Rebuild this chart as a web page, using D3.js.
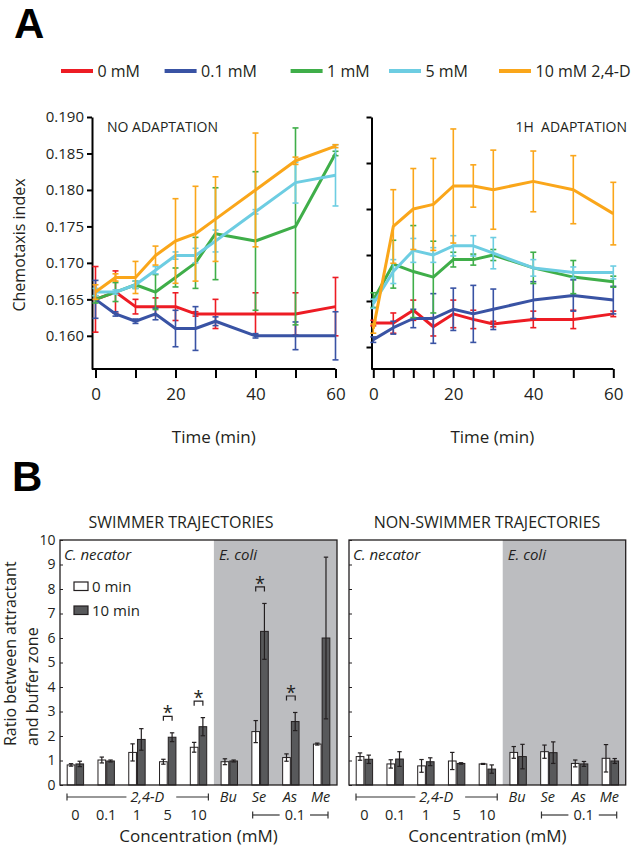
<!DOCTYPE html>
<html>
<head>
<meta charset="utf-8">
<script src="https://cdn.jsdelivr.net/npm/d3@7"></script>
<style>
  body { margin: 0; background: #fff; }
  text { font-family: "Open Sans", "Noto Sans", sans-serif; fill: #231f20; }
</style>
</head>
<body>
<svg id="fig" width="634" height="847"></svg>
<script>
// ---------- data ----------
const times = [0, 5, 10, 15, 20, 25, 30, 40, 50, 60];
const doseLabels = ["0 mM", "0.1 mM", "1 mM", "5 mM", "10 mM 2,4-D"];
const doseColors = ["#ed1c24", "#3953a4", "#3fae49", "#6dcde2", "#faa61a"];

// Chemotaxis index without adaptation (rows: 0, 0.1, 1, 5, 10 mM)
const noAdaptMean = [
  [0.165, 0.166, 0.164, 0.164, 0.164, 0.163, 0.163, 0.163, 0.163, 0.164],
  [0.165, 0.163, 0.162, 0.163, 0.161, 0.161, 0.162, 0.160, 0.160, 0.160],
  [0.165, 0.166, 0.167, 0.166, 0.168, 0.170, 0.174, 0.173, 0.175, 0.185],
  [0.166, 0.166, 0.167, 0.169, 0.171, 0.171, 0.173, 0.177, 0.181, 0.182],
  [0.166, 0.168, 0.168, 0.171, 0.173, 0.174, 0.176, 0.180, 0.184, 0.186]
];
const noAdaptErr = [
  [0.0045, 0.0029, 0.0010, 0.0012, 0.0019, 0.0003, 0.0020, 0.0029, 0.0029, 0.0040],
  [0.0026, 0.0003, 0.0003, 0.0008, 0.0025, 0.0030, 0.0006, 0.0003, 0.0019, 0.0033],
  [0.0005, 0.0013, 0.0005, 0.0024, 0.0013, 0.0035, 0.0063, 0.0095, 0.0135, 0.0003],
  [0.0005, 0.0003, 0.0005, 0.0005, 0.0005, 0.0010, 0.0015, 0.0003, 0.0028, 0.0042],
  [0.0010, 0.0005, 0.0022, 0.0013, 0.0058, 0.0065, 0.0058, 0.0078, 0.0005, 0.0002]
];

// Chemotaxis index after 1 h adaptation
const adaptMean = [
  [0.1676, 0.1676, 0.1690, 0.1672, 0.1686, 0.1680, 0.1675, 0.1680, 0.1680, 0.1686],
  [0.1658, 0.1671, 0.1681, 0.1681, 0.1691, 0.1686, 0.1691, 0.1701, 0.1706, 0.1701],
  [0.1701, 0.1740, 0.1732, 0.1726, 0.1745, 0.1745, 0.1750, 0.1736, 0.1726, 0.1721],
  [0.1697, 0.1732, 0.1755, 0.1750, 0.1760, 0.1760, 0.1752, 0.1736, 0.1731, 0.1731],
  [0.1670, 0.1781, 0.1800, 0.1805, 0.1825, 0.1825, 0.1821, 0.1830, 0.1821, 0.1795]
];
const adaptErr = [
  [0.0003, 0.0011, 0.0011, 0.0010, 0.0015, 0.0010, 0.0003, 0.0009, 0.0010, 0.0003],
  [0.0003, 0.0007, 0.0010, 0.0027, 0.0023, 0.0031, 0.0022, 0.0020, 0.0017, 0.0015],
  [0.0008, 0.0026, 0.0050, 0.0039, 0.0008, 0.0006, 0.0006, 0.0017, 0.0018, 0.0006],
  [0.0005, 0.0013, 0.0013, 0.0008, 0.0011, 0.0011, 0.0017, 0.0009, 0.0006, 0.0007],
  [0.0005, 0.0040, 0.0044, 0.0050, 0.0062, 0.0023, 0.0043, 0.0033, 0.0037, 0.0034]
];
const noAdaptYTicks = [0.160, 0.165, 0.170, 0.175, 0.180, 0.185, 0.190];
const adaptYTicks = [0.165, 0.170, 0.175, 0.180, 0.185, 0.190];
const timeLabelTicks = [0, 20, 40, 60];

// Ratio between attractant and buffer zone
const groups = ["0", "0.1", "1", "5", "10", "Bu", "Se", "As", "Me"];
const swim0 = [0.82, 1.02, 1.33, 0.95, 1.54, 0.95, 2.18, 1.12, 1.67];
const swim0Err = [0.05, 0.12, 0.35, 0.10, 0.20, 0.12, 0.45, 0.15, 0.04];
const swim10 = [0.86, 0.98, 1.86, 1.95, 2.38, 0.98, 6.27, 2.59, 6.00];
const swim10Err = [0.11, 0.04, 0.44, 0.18, 0.37, 0.04, 1.14, 0.37, 3.30];
const nonSwim0 = [1.16, 0.86, 0.78, 0.98, 0.86, 1.33, 1.36, 0.88, 1.09];
const nonSwim0Err = [0.15, 0.17, 0.26, 0.35, 0.02, 0.24, 0.27, 0.14, 0.56];
const nonSwim10 = [1.05, 1.06, 0.95, 0.88, 0.65, 1.16, 1.32, 0.86, 0.98];
const nonSwim10Err = [0.17, 0.30, 0.16, 0.03, 0.17, 0.50, 0.44, 0.10, 0.10];
const swimSignificant = ["5", "10", "Se", "As"];
const timePoints = ["0 min", "10 min"];

// ---------- drawing ----------
const svg = d3.select("#fig");
const ink = "#231f20";

function panelLetter(t, x, y) {
  svg.append("text").attr("x", x).attr("y", y).text(t)
    .style("font-family", "'Liberation Sans', Arial, sans-serif")
    .style("font-weight", "bold").style("font-size", "42px").style("fill", "#000");
}
panelLetter("A", 14, 38);
panelLetter("B", 12, 491);

// dose legend
const legendX = [61, 164.6, 290.6, 389, 499];
doseLabels.forEach((lab, i) => {
  svg.append("line").attr("x1", legendX[i]).attr("x2", legendX[i] + 32)
    .attr("y1", 71).attr("y2", 71).attr("stroke", doseColors[i]).attr("stroke-width", 4);
  svg.append("text").attr("x", legendX[i] + 36.5).attr("y", 76.5)
    .style("font-size", "16px").text(lab);
});

function lineChart(cfg) {
  const g = svg.append("g");
  const x = cfg.x, y = cfg.y;
  const yBottom = y.range()[0];

  const yAxis = d3.axisLeft(y).tickValues(cfg.yTicks).tickSize(5).tickSizeOuter(0)
    .tickPadding(3).tickFormat(cfg.yLabels ? d3.format(".3f") : () => "");
  const ga = g.append("g").attr("transform", `translate(${cfg.axisX},0)`).call(yAxis);
  ga.selectAll("path,line").attr("stroke", "#000").attr("stroke-width", 2);
  ga.selectAll("text").style("font-size", "15px").style("font-family", "'Open Sans', sans-serif").attr("fill", ink);

  const xAxis = d3.axisBottom(x).tickValues(cfg.xTicks).tickSize(9).tickSizeOuter(0)
    .tickPadding(10).tickFormat(d => timeLabelTicks.includes(d) ? d : "");
  const gx = g.append("g").attr("transform", `translate(0,${yBottom})`).call(xAxis);
  gx.select(".domain").remove();
  gx.append("line").attr("x1", cfg.axisX).attr("x2", x(60)).attr("y1", 0).attr("y2", 0)
    .attr("stroke", "#000").attr("stroke-width", 2);
  gx.selectAll(".tick line").attr("stroke", "#000").attr("stroke-width", 2);
  gx.selectAll("text").style("font-size", "17px").style("font-family", "'Open Sans', sans-serif").attr("fill", ink);

  g.append("text").attr("x", (cfg.axisX + x(60)) / 2).attr("y", 443)
    .attr("text-anchor", "middle").style("font-size", "17px").text("Time (min)");

  g.append("text").attr("x", cfg.titleX).attr("y", 132).attr("text-anchor", cfg.titleAnchor)
    .style("font-size", "14px").text(cfg.title);

  const line = d3.line().x((d, i) => x(times[i])).y(d => y(d));
  cfg.means.forEach((row, s) => {
    const col = doseColors[s];
    const eb = g.append("g").attr("stroke", col).attr("stroke-width", 1.6);
    row.forEach((v, i) => {
      const e = cfg.errs[s][i];
      const cx = x(times[i]);
      eb.append("line").attr("x1", cx).attr("x2", cx).attr("y1", y(v - e)).attr("y2", y(v + e));
      [v - e, v + e].forEach(w => eb.append("line").attr("x1", cx - 3).attr("x2", cx + 3)
        .attr("y1", y(w)).attr("y2", y(w)));
    });
    g.append("path").datum(row).attr("d", line).attr("fill", "none")
      .attr("stroke", col).attr("stroke-width", 3).attr("stroke-linejoin", "round");
  });
}

lineChart({
  x: d3.scaleLinear([0, 60], [95.5, 335.5]),
  y: d3.scaleLinear([0.15545, 0.190], [369, 117]),
  axisX: 92, yTicks: noAdaptYTicks, yLabels: true,
  xTicks: [0, 10, 20, 30, 40, 50, 60],
  means: noAdaptMean, errs: noAdaptErr,
  title: "NO ADAPTATION", titleX: 107, titleAnchor: "start"
});
lineChart({
  x: d3.scaleLinear([0, 60], [373.3, 613.3]),
  y: d3.scaleLinear([0.16261, 0.190], [369, 117]),
  axisX: 371.5, yTicks: adaptYTicks, yLabels: false,
  xTicks: times,
  means: adaptMean, errs: adaptErr,
  title: "1H\u00a0 ADAPTATION", titleX: 627, titleAnchor: "end"
});

svg.append("text").attr("transform", "translate(25,245) rotate(-90)")
  .attr("text-anchor", "middle").style("font-size", "16px").text("Chemotaxis index");

// ---------- panel B ----------
function barChart(cfg) {
  const g = svg.append("g");
  const xB = d3.scaleBand(groups, [cfg.left, cfg.right]);
  const bw = xB.bandwidth();
  const sub = d3.scaleBand(timePoints, [7.2, 23.6]).paddingInner(0.12);
  const yB = d3.scaleLinear([0, 10], [785, 540]);
  const xc = k => xB(k) + bw / 2;

  g.append("rect").attr("x", xB("Bu")).attr("y", 540).attr("width", cfg.right - xB("Bu"))
    .attr("height", 245).attr("fill", "#bcbdc0");

  const series = [
    { key: "0 min", m: cfg.m0, e: cfg.e0, fill: "#ffffff" },
    { key: "10 min", m: cfg.m10, e: cfg.e10, fill: "#58595b" }
  ];
  series.forEach(s => {
    groups.forEach((k, i) => {
      const bx = xB(k) + sub(s.key);
      g.append("rect").attr("x", bx).attr("y", yB(s.m[i])).attr("width", sub.bandwidth())
        .attr("height", yB(0) - yB(s.m[i])).attr("fill", s.fill).attr("stroke", ink).attr("stroke-width", 1);
      const cx = bx + sub.bandwidth() / 2;
      const lo = yB(s.m[i] - s.e[i]), hi = yB(s.m[i] + s.e[i]);
      g.append("line").attr("x1", cx).attr("x2", cx).attr("y1", lo).attr("y2", hi).attr("stroke", ink).attr("stroke-width", 1.2);
      [lo, hi].forEach(yy => g.append("line").attr("x1", cx - 2.2).attr("x2", cx + 2.2)
        .attr("y1", yy).attr("y2", yy).attr("stroke", ink).attr("stroke-width", 1.2));
    });
  });

  // significance brackets
  (cfg.sig || []).forEach(k => {
    const i = groups.indexOf(k);
    const x0 = xB(k) + sub("0 min") + sub.bandwidth() / 2;
    const x1 = xB(k) + sub("10 min") + sub.bandwidth() / 2;
    const yLeg = yB(cfg.m10[i] + cfg.e10[i]) - 12;
    const yTop = yLeg - 4.5;
    g.append("path").attr("d", `M${x0},${yLeg}V${yTop}H${x1}V${yLeg}`)
      .attr("fill", "none").attr("stroke", ink).attr("stroke-width", 1.2);
    g.append("text").attr("x", (x0 + x1) / 2).attr("y", yTop + 3).attr("text-anchor", "middle")
      .style("font-size", "18px").text("*");
  });

  // frame and axis
  g.append("rect").attr("x", cfg.left).attr("y", 540).attr("width", cfg.right - cfg.left)
    .attr("height", 245).attr("fill", "none").attr("stroke", ink).attr("stroke-width", 1.3);
  const ay = d3.axisLeft(yB).ticks(10).tickSize(-3).tickSizeOuter(0).tickPadding(4.5)
    .tickFormat(cfg.yLabels ? d3.format("d") : () => "");
  const ga = g.append("g").attr("transform", `translate(${cfg.left},0)`).call(ay);
  ga.select(".domain").remove();
  ga.selectAll(".tick line").attr("stroke", ink);
  ga.selectAll("text").style("font-size", "14px").style("font-family", "'Open Sans', sans-serif").attr("fill", ink);

  g.append("text").attr("x", cfg.titleX).attr("y", 527.5).attr("text-anchor", "middle")
    .style("font-size", "16px").text(cfg.title);
  g.append("text").attr("x", cfg.left + 4).attr("y", 560).style("font-size", "15px")
    .style("font-style", "italic").text("C. necator");
  g.append("text").attr("x", xB("Bu") + 5).attr("y", 560).style("font-size", "15px")
    .style("font-style", "italic").text("E. coli");

  if (cfg.legend) {
    timePoints.forEach((tp, i) => {
      const yy = 582 + i * 24;
      g.append("rect").attr("x", 74).attr("y", yy).attr("width", 14).attr("height", 8.5)
        .attr("fill", series[i].fill).attr("stroke", ink).attr("stroke-width", 1.2);
      g.append("text").attr("x", 92).attr("y", yy + 9.5).style("font-size", "15px").text(tp);
    });
  }

  // category labels
  const stroke = sel => sel.attr("stroke", "#333").attr("stroke-width", 1.2);
  const bracket = (xa, xb, yy) => {
    stroke(g.append("line").attr("x1", xa).attr("x2", xb).attr("y1", yy).attr("y2", yy));
  };
  const cap = (xx, yy) => stroke(g.append("line").attr("x1", xx).attr("x2", xx).attr("y1", yy - 3.5).attr("y2", yy + 3.5));

  const r1 = 801.5, r1c = 797;
  const dLabel = g.append("text").attr("x", (xc("1") + xc("5")) / 2 - 5).attr("y", r1)
    .attr("text-anchor", "middle").style("font-size", "14.5px").style("font-style", "italic").text("2,4-D");
  const dw = dLabel.node().getComputedTextLength();
  const dcx = (xc("1") + xc("5")) / 2 - 5;
  const dStart = xB(groups[0]) + 7, dEnd = xB("10") + bw - 5.5;
  bracket(dStart, dcx - dw / 2 - 4, r1c); bracket(dcx + dw / 2 + 12, dEnd, r1c);
  cap(dStart, r1c); cap(dEnd, r1c);
  ["Bu", "Se", "As", "Me"].forEach(k => g.append("text").attr("x", xc(k) - 1).attr("y", r1)
    .attr("text-anchor", "middle").style("font-size", "14.5px").style("font-style", "italic").text(k));

  const r2 = 820, r2c = 815;
  ["0", "0.1", "1", "5", "10"].forEach(k => g.append("text").attr("x", xc(k)).attr("y", r2)
    .attr("text-anchor", "middle").style("font-size", "14.5px").text(k));
  const eLabel = g.append("text").attr("x", xc("As") + 4).attr("y", r2).attr("text-anchor", "middle")
    .style("font-size", "14.5px").text("0.1");
  const ew = eLabel.node().getComputedTextLength();
  const eStart = xB("Se") + 8, eEnd = xB("Me") + bw - 9;
  bracket(eStart, xc("As") + 4 - ew / 2 - 5, r2c); bracket(xc("As") + 4 + ew / 2 + 5, eEnd, r2c);
  cap(eStart, r2c); cap(eEnd, r2c);

  g.append("text").attr("x", (cfg.left + cfg.right) / 2).attr("y", 842).attr("text-anchor", "middle")
    .style("font-size", "17px").text("Concentration (mM)");
}

barChart({
  left: 60, right: 337, m0: swim0, e0: swim0Err, m10: swim10, e10: swim10Err,
  sig: swimSignificant, yLabels: true, legend: true,
  title: "SWIMMER TRAJECTORIES", titleX: 181
});
barChart({
  left: 349, right: 625.7, m0: nonSwim0, e0: nonSwim0Err, m10: nonSwim10, e10: nonSwim10Err,
  sig: [], yLabels: false, legend: false,
  title: "NON-SWIMMER TRAJECTORIES", titleX: 487
});

const yl = svg.append("g").attr("transform", "translate(0,746) rotate(-90)");
yl.append("text").attr("x", 0).attr("y", 16).style("font-size", "16px").text("Ratio between attractant");
yl.append("text").attr("x", 0).attr("y", 38).style("font-size", "16px").text("and buffer zone");
</script>
</body>
</html>
